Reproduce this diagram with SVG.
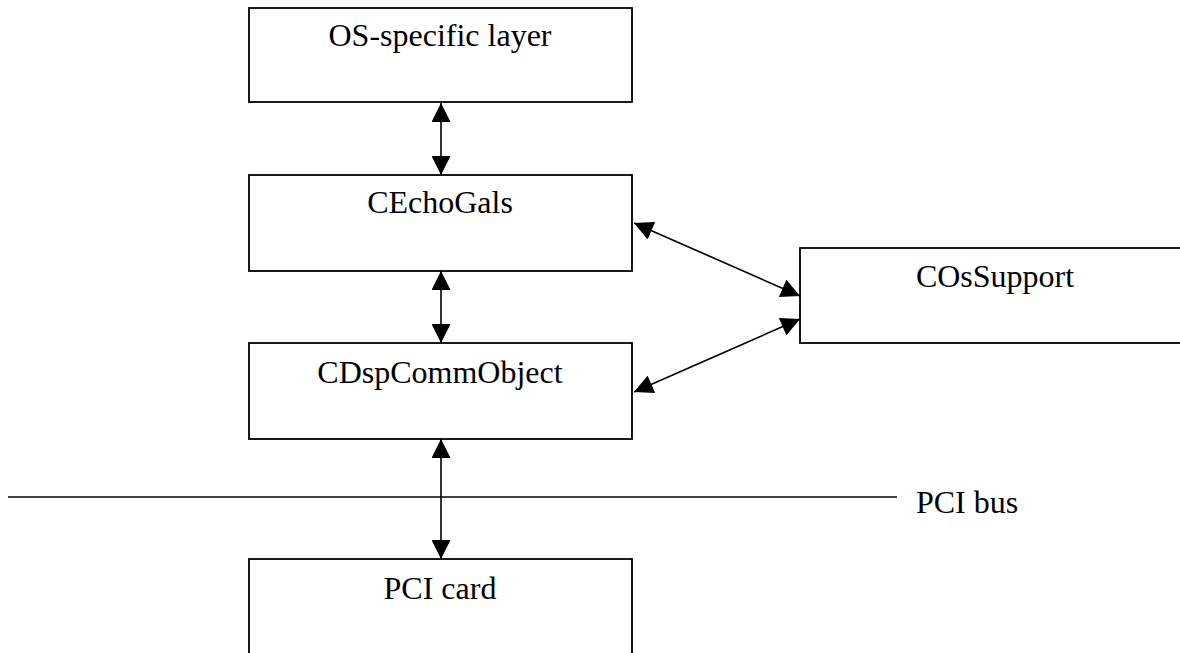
<svg xmlns="http://www.w3.org/2000/svg" width="1180" height="653" viewBox="0 0 1180 653">
<style>
.box{fill:#fff;stroke:#000;stroke-width:1.8}
.lbl{font-family:"Liberation Serif","Times New Roman",serif;font-size:32px;fill:#000;text-anchor:middle}
.conn{stroke:#000;stroke-width:1.6;fill:none}
</style>
<defs>
<marker id="ah" viewBox="0 0 20 20" refX="20" refY="10" markerWidth="20" markerHeight="19" markerUnits="userSpaceOnUse" orient="auto-start-reverse">
<path d="M0,0 L20,10 L0,20 Z" fill="#000"/>
</marker>
</defs>
<rect width="1180" height="653" fill="#fff"/>
<g id="os-layer"><rect class="box" x="249" y="8" width="383" height="94"/><text class="lbl" x="440" y="46">OS-specific layer</text></g>
<g id="cechogals"><rect class="box" x="249" y="175" width="383" height="96"/><text class="lbl" x="440" y="213">CEchoGals</text></g>
<g id="cdspcomm"><rect class="box" x="249" y="343" width="383" height="96"/><text class="lbl" x="440" y="383">CDspCommObject</text></g>
<g id="cossupport"><rect class="box" x="800" y="248" width="385" height="95"/><text class="lbl" x="995" y="287">COsSupport</text></g>
<g id="pcicard"><rect class="box" x="249" y="559" width="383" height="100"/><text class="lbl" x="440" y="599">PCI card</text></g>
<g id="pcibus"><line class="conn" x1="8" y1="497" x2="897" y2="497"/><text class="lbl" x="967" y="513">PCI bus</text></g>
<g id="connectors">
<line class="conn" x1="441" y1="103" x2="441" y2="175" marker-start="url(#ah)" marker-end="url(#ah)"/>
<line class="conn" x1="441" y1="271" x2="441" y2="343" marker-start="url(#ah)" marker-end="url(#ah)"/>
<line class="conn" x1="441" y1="439" x2="441" y2="559" marker-start="url(#ah)" marker-end="url(#ah)"/>
<line class="conn" x1="634" y1="223" x2="800" y2="296" marker-start="url(#ah)" marker-end="url(#ah)"/>
<line class="conn" x1="634" y1="392" x2="800" y2="319" marker-start="url(#ah)" marker-end="url(#ah)"/>
</g>
</svg>
